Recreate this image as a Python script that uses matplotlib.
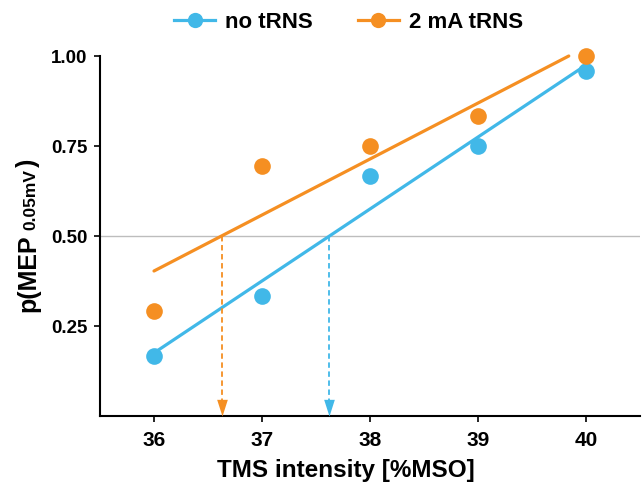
import matplotlib
matplotlib.use("Agg")
import matplotlib.pyplot as plt
import numpy as np
from matplotlib.lines import Line2D

# data
tms_intensity = np.array([36, 37, 38, 39, 40], dtype=float)
p_no_trns = np.array([0.167, 0.333, 0.667, 0.750, 0.958])
p_2ma_trns = np.array([0.292, 0.694, 0.750, 0.833, 1.000])
series_labels = ["no tRNS", "2 mA tRNS"]
x_ticks = [36, 37, 38, 39, 40]
y_ticks = [0.25, 0.50, 0.75, 1.00]
threshold = 0.5

BLUE = "#41B8E8"
ORANGE = "#F58F22"

plt.rcParams["font.family"] = ["Liberation Sans", "DejaVu Sans"]
plt.rcParams["font.weight"] = "bold"

fig = plt.figure(figsize=(6.42, 4.85), dpi=100)
W, H = 642, 485
ax = fig.add_axes([100 / W, (H - 417) / H, 540 / W, 378 / H])

ax.axhline(threshold, color="#BDBDBD", lw=1.0, zorder=1)

for y, color, label in [(p_no_trns, BLUE, series_labels[0]),
                        (p_2ma_trns, ORANGE, series_labels[1])]:
    slope, icpt = np.polyfit(tms_intensity, y, 1)
    x_end = min(tms_intensity.max(), (1.0 - icpt) / slope)
    xs = np.array([tms_intensity.min(), x_end])
    ax.plot(xs, slope * xs + icpt, color=color, lw=2.3, solid_capstyle="round", zorder=2)
    ax.plot(tms_intensity, y, "o", color=color, ms=12, mec="none", zorder=3, label=label)

    # threshold crossing, dashed arrow down to the x axis
    x_cross = (threshold - icpt) / slope
    ax.plot([x_cross, x_cross], [threshold, 0.04], color=color, lw=1.3,
            ls=(0, (3, 2)), zorder=2)
    ax.plot([x_cross], [0.0], marker=[(-0.32, 1), (0.32, 1), (0, 0)],
            color=color, ms=24, mec="none", zorder=3, clip_on=False)

ax.set_xlim(35.5, 40.5)
ax.set_ylim(0, 1.05)
ax.set_xticks(x_ticks)
ax.set_yticks(y_ticks)
ax.set_yticklabels([f"{v:.2f}" for v in y_ticks])
ax.tick_params(axis="both", width=1.2, length=4, color="black")
ax.tick_params(axis="x", labelsize=15, pad=6)
ax.tick_params(axis="y", labelsize=13.5, pad=5)
for s in ["top", "right"]:
    ax.spines[s].set_visible(False)
ax.spines["left"].set_bounds(0, 1)
ax.spines["left"].set_linewidth(1.5)
ax.spines["bottom"].set_linewidth(1.5)

ax.set_xlabel("TMS intensity [%MSO]", fontsize=17.5, fontweight="bold")
ax.xaxis.label.set_va("center")
ax.xaxis.set_label_coords((346 - 100) / 540, -(471 - 417) / 378)

# y label: "p(MEP" + small "0.05mV" on the same baseline + ")"
renderer = fig.canvas.get_renderer()
base_x = 35 / W
y_pos = (H - 312) / H
for piece, size, gap in [("p(MEP", 18, 4), ("0.05mV", 12.5, 2), (")", 18, 0)]:
    t = fig.text(base_x, y_pos, piece, rotation=90, rotation_mode="anchor",
                 ha="left", va="baseline", fontsize=size, fontweight="bold")
    bb = t.get_window_extent(renderer)
    y_pos = (bb.y1 + gap) / fig.bbox.height

handles = [Line2D([], [], color=BLUE, lw=2.3, marker="o", ms=11, mec="none"),
           Line2D([], [], color=ORANGE, lw=2.3, marker="o", ms=11, mec="none")]
fig.legend(handles, series_labels, loc="center", bbox_to_anchor=(0.543, 1 - 23 / H),
           ncol=2, frameon=False, fontsize=16, handlelength=1.85, columnspacing=2.0,
           handletextpad=0.45)

fig.savefig("out.png", dpi=100)
